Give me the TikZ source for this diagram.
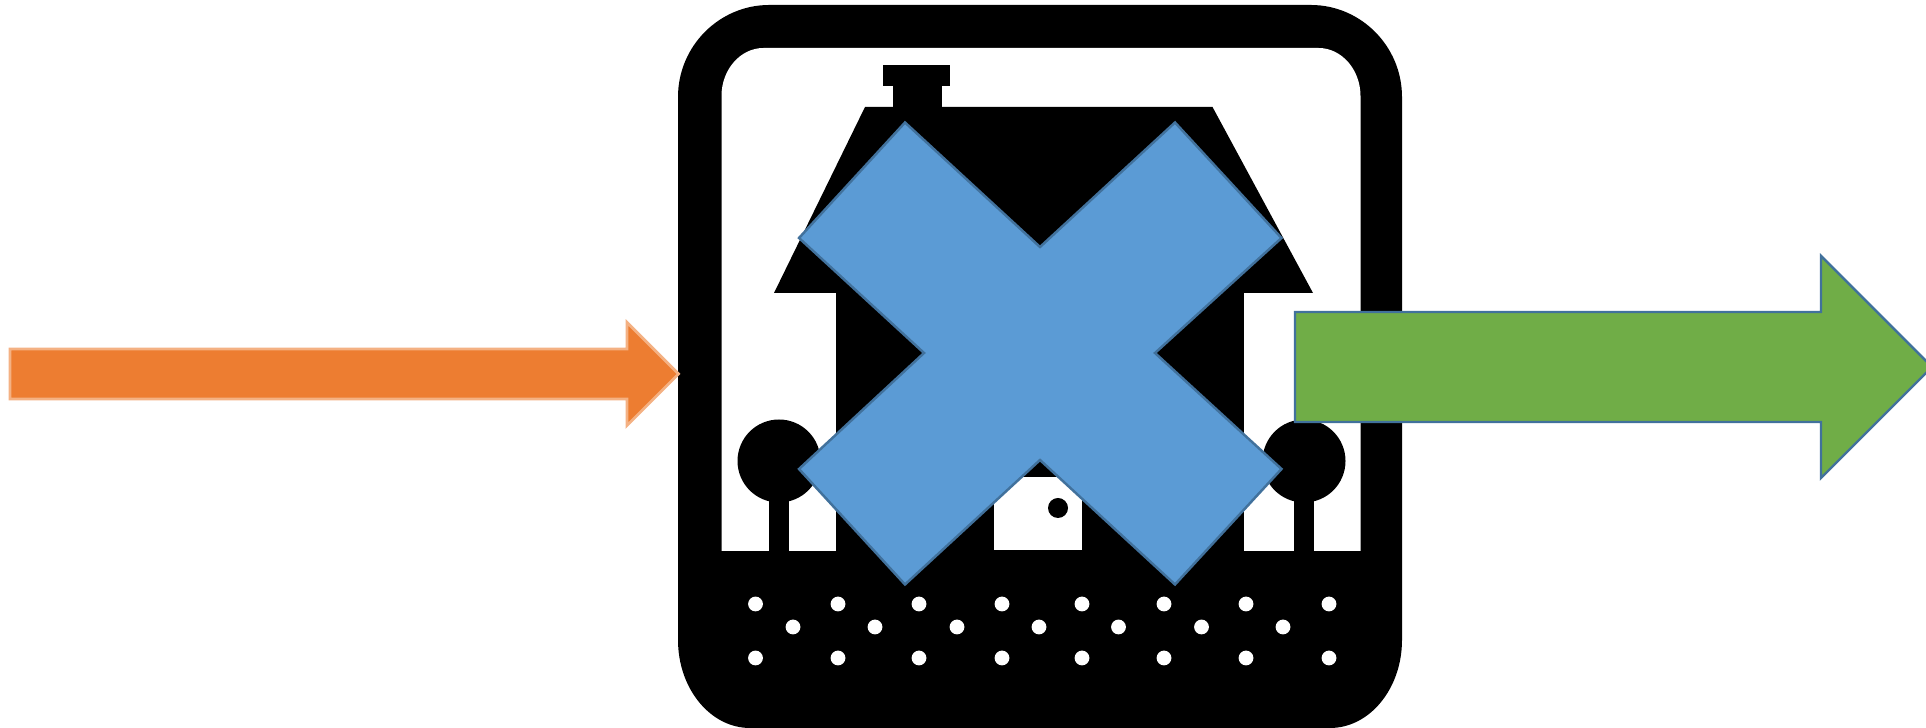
\documentclass[tikz,border=0pt]{standalone}
\usepackage{tikz}

\begin{document}
\begin{tikzpicture}[x=0.1mm,y=-0.1mm,
    solid/.style={fill=black},
    hole/.style={fill=white},
    cross/.style={fill=crossblue,draw=edgeblue,line width=0.7pt,line join=miter},
    inarrow/.style={fill=inorange,draw=inedge,line width=0.8pt,line join=miter},
    outarrow/.style={fill=outgreen,draw=edgeblue,line width=0.7pt,line join=miter}]
\definecolor{crossblue}{HTML}{5B9BD5}
\definecolor{edgeblue}{HTML}{41719C}
\definecolor{inorange}{HTML}{ED7D31}
\definecolor{inedge}{HTML}{F4B183}
\definecolor{outgreen}{HTML}{70AD47}
\useasboundingbox (0,0) rectangle (1926,728);
% frame and sky
\fill[solid] (678,97) .. controls (678,46) and (719.5,5) .. (769,5) -- (1311,5)
    .. controls (1360.5,5) and (1402,46) .. (1402,97) -- (1402,640)
    .. controls (1402,688.4) and (1369.8,728) .. (1330,728) -- (750,728)
    .. controls (710.2,728) and (678,688.4) .. (678,640) -- cycle;
\fill[hole] (721.5,96) .. controls (721.5,69.6) and (740.4,48) .. (763.5,48) -- (1318.5,48)
    .. controls (1341.6,48) and (1360.5,69.6) .. (1360.5,96) -- (1360.5,551) -- (721.5,551) -- cycle;
% house
\fill[solid] (883,65) rectangle (950,86);
\fill[solid] (893,86) rectangle (942,110);
\fill[solid] (865,107) -- (1212.5,107) -- (1313,293) -- (774,293) -- cycle;
\fill[solid] (835.5,293) rectangle (1244,551);
\fill[hole] (994,477) rectangle (1082,550);
\fill[solid] (1058,508) circle (10);
% trees
\foreach \x in {779,1304} {
    \fill[solid] (\x,461) circle (41.5);
    \fill[solid] (\x-10,480) rectangle (\x+10,551);
}
% ground
\foreach \x in {755.5,838,919,1002,1082,1164,1246,1329} {
    \fill[hole] (\x,604) circle (7.4);
    \fill[hole] (\x,658) circle (7.4);
}
\foreach \x in {793,875,957,1039,1118.5,1201.5,1283}
    \fill[hole] (\x,627) circle (7.4);
% big cross
\draw[cross] (905,122.5) -- (1040,247) -- (1175,122.5) -- (1281.5,238) -- (1155,353)
    -- (1281.5,469) -- (1175,584.5) -- (1040,460) -- (905,584.5) -- (799,469)
    -- (924,353) -- (799,238) -- cycle;
% arrows
\draw[inarrow] (10,349) -- (627,349) -- (627,322.5) -- (678.5,374) -- (627,425.5)
    -- (627,399) -- (10,399) -- cycle;
\draw[outarrow] (1295,312) -- (1821,312) -- (1821,256) -- (1932,367) -- (1821,478)
    -- (1821,422) -- (1295,422) -- cycle;
\end{tikzpicture}
\end{document}
